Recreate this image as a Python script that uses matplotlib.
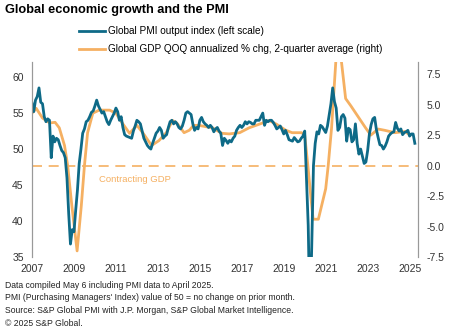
import numpy as np
import matplotlib
matplotlib.use("Agg")
import matplotlib.pyplot as plt

plt.rcParams["font.family"] = ["Liberation Sans", "DejaVu Sans"]

# monthly PMI output index, Jan 2007 .. Apr 2025
pmi = [
    56.4, 55.2, 56.8, 57.3, 58.5, 56.5, 56.3, 54.5, 53.8, 54.2, 54.0, 48.8,  # 2007
    51.8, 51.0, 51.5, 51.3, 50.5, 49.8, 49.5, 48.8, 46.0, 41.0, 36.8, 38.8,  # 2008
    38.5, 41.5, 44.3, 48.0, 50.0, 52.2, 52.8, 53.8, 54.0, 54.5, 55.1, 55.3,  # 2009
    56.0, 56.8, 56.0, 55.5, 55.0, 55.2, 54.5, 53.8, 53.4, 54.0, 54.5, 55.0,  # 2010
    55.7, 55.2, 54.0, 54.5, 53.0, 52.0, 51.8, 51.7, 51.6, 51.5, 52.5, 53.2,  # 2011
    54.0, 53.8, 53.5, 52.5, 51.5, 51.0, 50.5, 50.2, 50.0, 50.8, 51.5, 52.2,  # 2012
    52.5, 53.0, 52.6, 51.5, 51.8, 52.0, 53.0, 53.8, 54.0, 53.5, 53.8, 53.5,  # 2013
    53.0, 52.8, 53.2, 54.0, 55.0, 55.2, 55.0, 54.8, 53.5, 52.6, 53.0, 52.8,  # 2014
    54.0, 54.4, 53.8, 53.5, 53.3, 53.0, 53.3, 53.0, 52.4, 52.8, 53.0, 52.5,  # 2015
    52.2, 50.5, 51.5, 51.2, 50.8, 51.2, 51.0, 51.5, 51.8, 52.6, 53.0, 53.3,  # 2016
    53.0, 53.3, 53.8, 53.5, 53.8, 53.7, 53.5, 53.5, 54.0, 54.0, 54.0, 54.5,  # 2017
    55.0, 53.3, 54.0, 53.8, 54.0, 54.0, 53.7, 53.3, 52.8, 53.0, 53.2, 52.7,  # 2018
    52.1, 52.6, 52.0, 51.3, 51.2, 51.1, 51.6, 51.3, 51.0, 51.1, 51.5, 51.8,  # 2019
    52.5, 46.1, 39.4, 26.2, 36.3, 47.7, 50.8, 52.4, 52.1, 53.3, 53.1, 52.7,  # 2020
    52.3, 53.2, 54.8, 56.3, 58.5, 56.6, 55.7, 52.6, 53.0, 54.5, 54.8, 54.3,  # 2021
    51.1, 52.9, 52.7, 51.0, 51.3, 53.5, 50.8, 49.3, 50.0, 49.0, 48.0, 48.2,  # 2022
    49.8, 52.1, 53.4, 54.2, 54.4, 52.7, 51.6, 50.6, 50.5, 50.0, 50.4, 51.0,  # 2023
    51.8, 52.1, 52.3, 52.4, 53.7, 52.9, 52.5, 52.8, 52.0, 52.3, 52.4, 52.6,  # 2024
    51.8, 52.1, 52.1, 50.8,                                                  # 2025
]
pmi_t = 2007 + np.arange(len(pmi)) / 12

# GDP QoQ annualized % chg, 2-quarter average
gdp_t = [2007.0, 2007.2, 2007.5, 2007.85, 2008.1, 2008.3, 2008.55, 2008.7, 2008.9,
         2009.15, 2009.35, 2009.5, 2009.65, 2009.9, 2010.2, 2010.7, 2011.0, 2011.3,
         2011.65, 2012.0, 2012.3, 2012.7, 2013.05, 2013.4, 2013.7, 2013.9, 2014.25,
         2014.5, 2014.7, 2014.95, 2015.6, 2016.05, 2016.4, 2016.9, 2017.35, 2018.0,
         2018.3, 2018.65, 2019.1, 2019.4, 2019.85, 2020.0, 2020.15, 2020.3, 2020.4,
         2020.65, 2021.0, 2021.12, 2021.28, 2021.5, 2021.72, 2021.95, 2022.2, 2022.9,
         2023.15, 2023.5, 2023.8, 2024.3, 2024.8, 2025.0]
gdp = [4.3, 4.7, 3.9, 3.5, 3.55, 3.1, 1.65, 0.0, -3.3,
       -7.0, -3.3, 0.0, 2.7, 4.3, 4.55, 4.55, 4.3, 3.5,
       2.65, 3.3, 2.65, 1.65, 2.05, 2.7, 3.7, 3.5, 2.7,
       2.9, 3.3, 3.3, 3.1, 2.65, 2.6, 2.7, 3.1, 3.5,
       3.7, 3.4, 2.9, 2.7, 2.7, 2.5, 0.0, -2.7, -4.4,
       -4.4, -1.9, 0.0, 3.1, 9.0, 9.0, 5.5, 4.9, 3.1,
       2.5, 3.0, 2.9, 2.7, 2.8, 2.5]

years = list(range(2007, 2026, 2))
left_ticks = [35, 40, 45, 50, 55, 60]
right_ticks = [-7.5, -5.0, -2.5, 0.0, 2.5, 5.0, 7.5]

blue = "#0e6a87"
orange = "#f5b062"
W, H = 454, 334

fig = plt.figure(figsize=(W / 100, H / 100), dpi=100)
ax = fig.add_axes([32 / W, (H - 257) / H, (418 - 32) / W, (257 - 62) / H])
ax2 = ax.twinx()

ax2.axhline(0, color=orange, lw=1.2, dashes=(6, 4))
ax2.text(2010.2, -1.1, "Contracting GDP", color=orange, fontsize=6.8, va="center")
ax2.plot(gdp_t, gdp, color=orange, lw=2, solid_joinstyle="round")
ax.plot(pmi_t, pmi, color=blue, lw=2, solid_joinstyle="round")
ax.set_zorder(ax2.get_zorder() + 1)
ax.patch.set_visible(False)

ax.set_xlim(2007, 2025.4)
ax.set_ylim(35, 62.1)
ax2.set_ylim(-7.5, 8.5)
ax.set_xticks(years)
ax.set_yticks(left_ticks)
ax2.set_yticks(right_ticks)
ax2.set_yticklabels([f"{v:.1f}" for v in right_ticks])

for a in (ax, ax2):
    for s in ("top", "bottom"):
        a.spines[s].set_visible(False)
    a.spines["left"].set_color("#999999")
    a.spines["right"].set_color("#999999")
    a.tick_params(length=0, labelsize=7.5, colors="#333333")
ax.tick_params(axis="x", pad=5)
ax.tick_params(axis="y", pad=6)
ax2.tick_params(axis="y", pad=6)

fig.text(5 / W, 1 - 10 / H, "Global economic growth and the PMI", fontsize=9.2,
         fontweight="bold", va="center")
fig.legend(handles=[ax.lines[0], ax2.lines[-1]],
           labels=["Global PMI output index (left scale)",
                   "Global GDP QOQ annualized % chg, 2-quarter average (right)"],
           loc="upper left", bbox_to_anchor=(75 / W, 1 - 22 / H), frameon=False,
           fontsize=7.2, handlelength=2.6, handletextpad=0.3, labelspacing=0.85,
           borderaxespad=0)

notes = ["Data compiled May 6 including PMI data to April 2025.",
         "PMI (Purchasing Managers' Index) value of 50 = no change on prior month.",
         "Source: S&P Global PMI with J.P. Morgan, S&P Global Market Intelligence.",
         "\u00a9 2025 S&P Global."]
for i, n in enumerate(notes):
    fig.text(5 / W, 1 - (285 + i * 12.8) / H, n, fontsize=6.2, va="center",
             color="#222222")

fig.savefig("out.png", dpi=100)
